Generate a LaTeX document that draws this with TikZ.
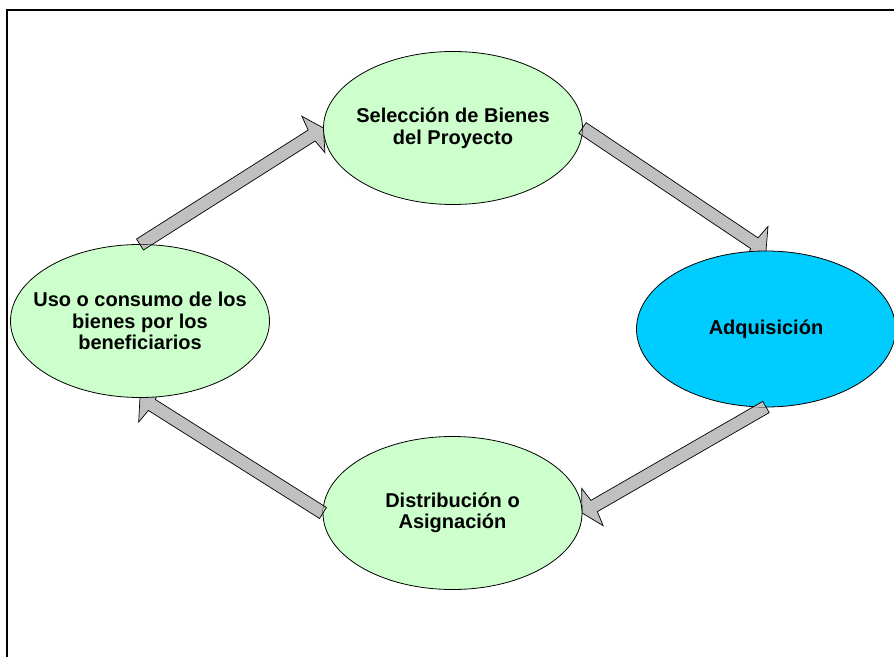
\documentclass[tikz,border=0pt]{standalone}
\usepackage{fontspec}
\setmainfont{Liberation Sans}
\usetikzlibrary{shapes.geometric,calc}
\pgfdeclarelayer{behind}
\pgfsetlayers{behind,main}

\definecolor{mint}{HTML}{CCFFCC}
\definecolor{sky}{HTML}{00CCFF}
\definecolor{shaftgray}{HTML}{C0C0C0}

\tikzset{
  stage/.style={ellipse, draw=black, line width=0.8pt, fill=mint,
    minimum width=259pt, minimum height=153pt, inner sep=-45pt, outer sep=0pt,
    align=center, text=black, font=\fontsize{20}{21.5}\selectfont\bfseries},
  blockarrow/.style={fill=shaftgray, draw=black, line width=0.7pt, line join=miter},
  frameline/.style={draw=black, line width=1.2pt},
}

% Wide block arrow from tail anchor #1 to tip anchor #2
\newcommand\blockarrow[2]{%
  \path ($(#2)!14pt!(#1)$) coordinate (hbase)
        ($(#2)!12pt!(#1)$) coordinate (hbarb);
  \path[blockarrow]
    ($(#1)!6.5pt!90:(#2)$) -- ($(hbase)!6.5pt!90:(#2)$) --
    ($(hbarb)!21.5pt!90:(#2)$) -- (#2) --
    ($(hbarb)!21.5pt!-90:(#2)$) -- ($(hbase)!6.5pt!-90:(#2)$) --
    ($(#1)!6.5pt!-90:(#2)$) -- cycle;}

\begin{document}
\begin{tikzpicture}[x=1pt, y=1pt]
  \useasboundingbox (0,0) rectangle (894,657);

  % page frame
  \coordinate (fcorner) at (7,647);
  \coordinate (fright) at (894,647);
  \coordinate (fbottom) at (7,0);
  \draw[frameline] (fright) -- (fcorner) -- (fbottom);

  % stages of the cycle
  \node[stage] (sel) at (453,529) {Selección de Bienes\\del Proyecto};
  \node[stage, fill=sky, minimum height=156pt] (adq) at (766,328) {Adquisición};
  \node[stage] (dis) at (452.5,144) {Distribución o\\Asignación};
  \node[stage] (uso) at (140,336) {Uso o consumo de los\\bienes por los\\beneficiarios};

  % arrows, heads tucked under the target ellipse
  \begin{pgfonlayer}{behind}
    \blockarrow{uso.north}{sel.west}
    \blockarrow{sel.east}{adq.north}
    \blockarrow{adq.south}{dis.east}
    \blockarrow{dis.west}{uso.south}
  \end{pgfonlayer}

  % arrow tails lying over the source ellipse
  \begin{scope}
    \clip (uso.center) ellipse [x radius=129.5pt, y radius=76.5pt];
    \blockarrow{uso.north}{sel.west}
  \end{scope}
  \begin{scope}
    \clip (sel.center) ellipse [x radius=129.5pt, y radius=76.5pt];
    \blockarrow{sel.east}{adq.north}
  \end{scope}
  \begin{scope}
    \clip (adq.center) ellipse [x radius=129.5pt, y radius=78pt];
    \blockarrow{adq.south}{dis.east}
  \end{scope}
  \begin{scope}
    \clip (dis.center) ellipse [x radius=129.5pt, y radius=76.5pt];
    \blockarrow{dis.west}{uso.south}
  \end{scope}
\end{tikzpicture}
\end{document}
